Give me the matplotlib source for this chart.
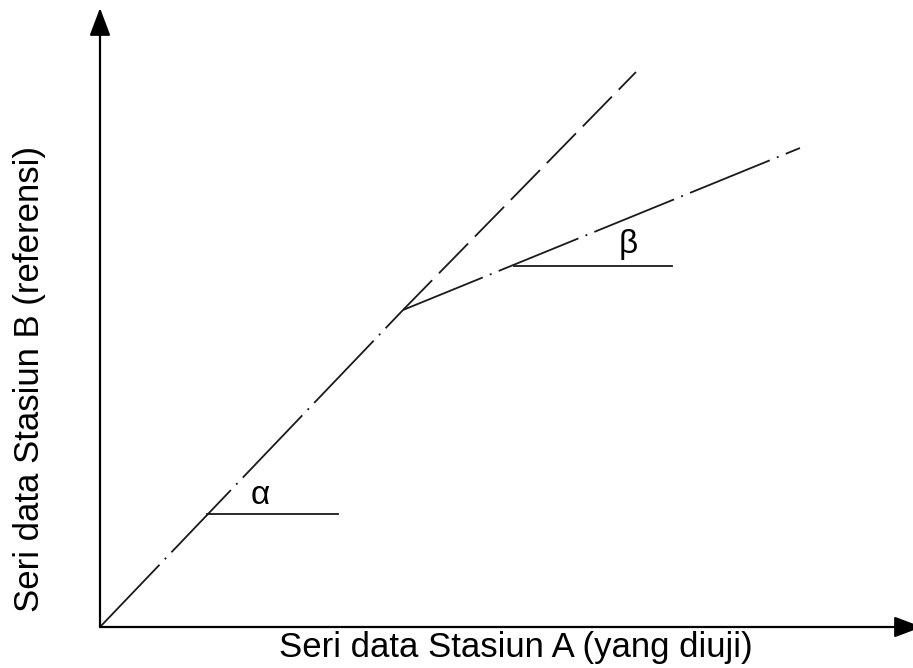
import matplotlib
matplotlib.use('Agg')
import matplotlib.pyplot as plt

# data coordinates: origin of the sketch at (0, 0)
break_pt = (303, 317)
line1_lower_x = [0, break_pt[0]]
line1_lower_y = [0, break_pt[1]]
line1_upper_x = [break_pt[0], 536]
line1_upper_y = [break_pt[1], 555]
line2_x = [break_pt[0], 700]
line2_y = [break_pt[1], 479]
alpha_x = [107, 238]
alpha_y = [113, 113]
beta_x = [414, 572]
beta_y = [361, 361]
greek_labels = ['α', 'β']
greek_pos = [(160, 131), (528, 382)]
x_label = 'Seri data Stasiun A (yang diuji)'
y_label = 'Seri data Stasiun B (referensi)'

plt.rcParams['font.family'] = ['Liberation Sans', 'DejaVu Sans']
plt.rcParams['lines.scale_dashes'] = False

fig = plt.figure(figsize=(9.13, 6.68), dpi=100)
ax = fig.add_axes([0, 0, 1, 1])
ax.set_xlim(-100, 813)
ax.set_ylim(-41, 627)
ax.axis('off')

lw = 1.3
col = '#1a1a1a'
dashdot = (0, (62, 5.5, 1.4, 5.5))
dashed = (0, (30, 7))
ax.plot(line1_lower_x, line1_lower_y, color=col, lw=lw, linestyle=dashdot)
ax.plot(line1_upper_x, line1_upper_y, color=col, lw=lw, linestyle=dashed)
ax.plot(line2_x, line2_y, color=col, lw=lw, linestyle=dashdot)
ax.plot(alpha_x, alpha_y, color=col, lw=lw)
ax.plot(beta_x, beta_y, color=col, lw=lw)

for lab, (gx, gy) in zip(greek_labels, greek_pos):
    ax.text(gx, gy, lab, fontsize=24, ha='center', va='center')

# axes with arrow heads
arrow = dict(arrowstyle='-|>,head_length=0.85,head_width=0.32',
             mutation_scale=20, color='black', lw=1.6, shrinkA=0, shrinkB=0)
ax.annotate('', xy=(0, 619), xytext=(0, 0), arrowprops=arrow,
            annotation_clip=False)
ax.annotate('', xy=(822, 0), xytext=(0, 0), arrowprops=arrow,
            annotation_clip=False)

ax.text(416, -20, x_label, fontsize=25, ha='center', va='center')
ax.text(-71, 248, y_label, fontsize=25, ha='center', va='center', rotation=90)

fig.savefig('out.png', dpi=100)
